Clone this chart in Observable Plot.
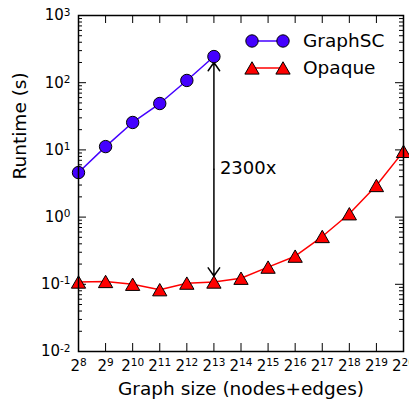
<!DOCTYPE html>
<html><head><meta charset="utf-8">
<script src="https://cdn.jsdelivr.net/npm/d3@7"></script>
<script src="https://cdn.jsdelivr.net/npm/@observablehq/plot@0.6"></script>
<style>
body{margin:0;background:#fff;}
#chart{width:409px;height:405px;}
</style>
</head><body><div id="chart"></div>
<script>
// ---- data ----
const graphscExps = [8, 9, 10, 11, 12, 13];
const graphscRuntime = [4.6, 11.2, 25.6, 49, 108, 245];
const opaqueExps = [8, 9, 10, 11, 12, 13, 14, 15, 16, 17, 18, 19, 20];
const opaqueRuntime = [0.108, 0.11, 0.1, 0.083, 0.104, 0.108, 0.123, 0.18, 0.262, 0.514, 1.12, 2.95, 9.5];
const xTickExps = [8, 9, 10, 11, 12, 13, 14, 15, 16, 17, 18, 19, 20];
const yTickExps = [-2, -1, 0, 1, 2, 3];
const seriesNames = ["GraphSC", "Opaque"];
const speedupLabel = "2300x";
const xLabel = "Graph size (nodes+edges)";
const yLabel = "Runtime (s)";

// ---- layout ----
const W = 409, H = 405;
const mL = 78, mR = 6, mT = 15, mB = 54;
const pw = W - mL - mR, ph = H - mT - mB;
const blue = "#4400ff", red = "#ff0000";
const font = "DejaVu Sans";

const graphsc = graphscExps.map((e, i) => ({x: 2 ** e, y: graphscRuntime[i]}));
const opaque = opaqueExps.map((e, i) => ({x: 2 ** e, y: opaqueRuntime[i]}));
const xMajor = xTickExps.map(e => 2 ** e);
const yMajor = yTickExps.map(e => 10 ** e);
const yMinor = [];
for (let e = yTickExps[0]; e < yTickExps[yTickExps.length - 1]; e++)
  for (let m = 2; m < 10; m++) yMinor.push(m * 10 ** e);

const gi = graphscExps.indexOf(13), oi = opaqueExps.indexOf(13);
const arrowX = 2 ** 13;
const arrowTop = graphscRuntime[gi], arrowBot = opaqueRuntime[oi];
const arrowMid = Math.sqrt(arrowTop * arrowBot);

const tickStyle = {stroke: "black", strokeWidth: 1};
const chart = Plot.plot({
  width: W, height: H,
  marginLeft: mL, marginRight: mR, marginTop: mT, marginBottom: mB,
  style: {fontFamily: font, background: "white", color: "black", overflow: "visible"},
  x: {type: "log", base: 2, domain: [2 ** 8, 2 ** 20]},
  y: {type: "log", domain: [1e-2, 1e3]},
  marks: [
    // inward ticks
    Plot.tickX(xMajor, {x: d => d, insetTop: ph - 8, ...tickStyle}),
    Plot.tickX(xMajor, {x: d => d, insetBottom: ph - 8, ...tickStyle}),
    Plot.tickY(yMajor, {y: d => d, insetRight: pw - 8, ...tickStyle}),
    Plot.tickY(yMajor, {y: d => d, insetLeft: pw - 8, ...tickStyle}),
    Plot.tickY(yMinor, {y: d => d, insetRight: pw - 4, ...tickStyle}),
    Plot.tickY(yMinor, {y: d => d, insetLeft: pw - 4, ...tickStyle}),
    // tick labels
    Plot.axisX({ticks: xMajor, tickSize: 0, tickPadding: 9, fontSize: 15, label: null,
      tickFormat: d => "2^" + Math.round(Math.log2(d))}),
    Plot.axisY({ticks: yMajor, tickSize: 0, tickPadding: 8, fontSize: 15, label: null,
      tickFormat: d => "10^" + Math.round(Math.log10(d))}),
    // axis titles
    Plot.text([xLabel], {text: d => d, frameAnchor: "bottom", dy: 43, fontSize: 18.5}),
    Plot.text([yLabel], {text: d => d, frameAnchor: "left", rotate: -90, dx: -58, dy: -4, fontSize: 18.5}),
    // series
    Plot.line(graphsc, {x: "x", y: "y", stroke: blue, strokeWidth: 1.5}),
    Plot.line(opaque, {x: "x", y: "y", stroke: red, strokeWidth: 1.5}),
    // speed-up arrow (double-headed)
    Plot.arrow([0], {x1: arrowX, x2: arrowX, y1: arrowMid, y2: arrowTop, insetEnd: 6, headLength: 10, headAngle: 70, stroke: "black", strokeWidth: 1.5}),
    Plot.arrow([0], {x1: arrowX, x2: arrowX, y1: arrowMid, y2: arrowBot, insetEnd: 6, headLength: 10, headAngle: 70, stroke: "black", strokeWidth: 1.5}),
    Plot.text([speedupLabel], {x: arrowX, y: arrowMid, text: d => d, textAnchor: "start", dx: 6, dy: -1, fontSize: 18}),
    Plot.dot(graphsc, {x: "x", y: "y", r: 6.2, fill: blue, stroke: "black", strokeWidth: 1}),
    Plot.dot(opaque, {x: "x", y: "y", r: 5.3, symbol: "triangle", dy: 2, fill: red, stroke: "black", strokeWidth: 1}),
    Plot.frame({stroke: "black", strokeWidth: 1.5})
  ]
});
document.getElementById("chart").appendChild(chart);

// superscript exponents in tick labels
chart.querySelectorAll('g[aria-label$="tick label"] text').forEach(t => {
  const s = t.textContent;
  const [base, exp] = s.split("^");
  t.textContent = "";
  t.appendChild(document.createTextNode(base));
  const sup = document.createElementNS("http://www.w3.org/2000/svg", "tspan");
  sup.setAttribute("dy", "-0.45em");
  sup.setAttribute("font-size", "10.5");
  sup.textContent = exp;
  t.appendChild(sup);
});

// legend
const svg = d3.select(chart);
const lg = svg.append("g").attr("font-family", font).attr("text-anchor", "start");
const rows = [
  {name: seriesNames[0], color: blue, shape: "circle"},
  {name: seriesNames[1], color: red, shape: "triangle"}
];
rows.forEach((r, i) => {
  const y = 41 + i * 27;
  lg.append("line").attr("x1", 252).attr("x2", 283).attr("y1", y).attr("y2", y)
    .attr("stroke", r.color).attr("stroke-width", 1.5);
  [252, 283].forEach(cx => {
    if (r.shape === "circle") {
      lg.append("circle").attr("cx", cx).attr("cy", y).attr("r", 6.2)
        .attr("fill", r.color).attr("stroke", "black");
    } else {
      lg.append("path").attr("d", d3.symbol(d3.symbolTriangle, 5.3 * 5.3 * Math.PI)())
        .attr("transform", `translate(${cx},${y + 2})`)
        .attr("fill", r.color).attr("stroke", "black");
    }
  });
  lg.append("text").attr("x", 303).attr("y", y).attr("dy", "0.35em")
    .attr("text-anchor", "start").attr("font-size", 18.5).text(r.name);
});
</script>
</body></html>
